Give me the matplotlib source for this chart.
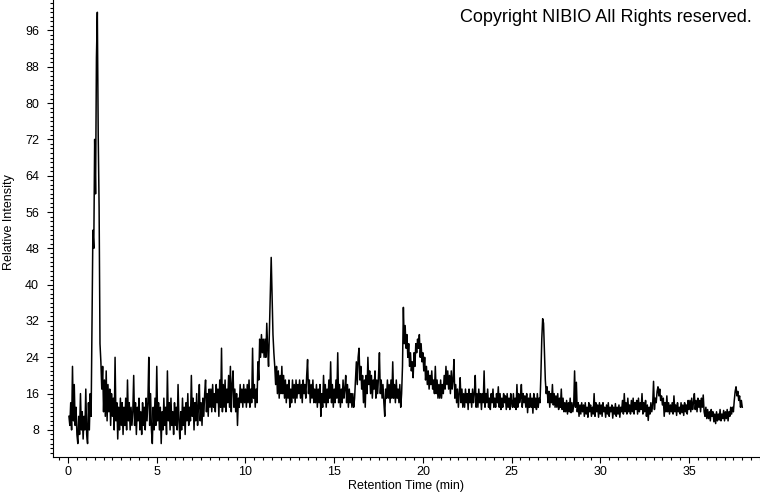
import numpy as np
import matplotlib
matplotlib.use("Agg")
import matplotlib.pyplot as plt
from matplotlib.ticker import MultipleLocator

plt.rcParams['font.family'] = ['Liberation Sans', 'DejaVu Sans']

# chromatogram, sampled every 0.05 min starting at 0.05 min
t_start = 0.05
t_step = 0.05
intensity = [
    11, 9, 14, 8, 22, 10, 18, 9, 13, 7, 5, 11, 7, 16, 8, 12, 6, 11, 8, 17,
    7, 5, 14, 8, 16, 11, 32, 52, 48, 72, 60, 90, 100, 73, 57, 27, 23, 17, 22, 12,
    19, 11, 21, 10, 18, 12, 17, 9, 16, 11, 15, 8, 24, 10, 14, 6, 13, 8, 15, 9,
    14, 7, 13, 9, 15, 8, 19, 10, 14, 8, 13, 9, 12, 20, 9, 14, 7, 13, 10, 15,
    8, 12, 7, 14, 9, 13, 8, 15, 10, 14, 24, 9, 16, 8, 5, 13, 8, 15, 9, 22,
    10, 14, 8, 13, 5, 12, 8, 15, 9, 13, 7, 21, 10, 14, 8, 15, 9, 12, 7, 14,
    9, 13, 8, 18, 10, 6, 12, 8, 15, 9, 13, 7, 14, 10, 16, 9, 13, 10, 20, 11,
    15, 8, 14, 10, 16, 9, 13, 18, 10, 14, 9, 15, 11, 16, 19, 12, 16, 11, 17, 13,
    17, 12, 18, 13, 16, 12, 18, 14, 17, 11, 19, 13, 26, 12, 18, 13, 19, 12, 17, 14,
    20, 13, 22, 12, 18, 21, 13, 17, 12, 16, 9, 15, 13, 18, 14, 17, 13, 18, 14, 17,
    13, 18, 14, 19, 13, 17, 14, 26, 15, 18, 13, 17, 14, 23, 19, 28, 24, 29, 25, 28,
    24, 28, 24, 31.5, 26, 22, 30, 39, 46, 37, 29, 25, 22, 18, 22, 16, 21, 15, 20, 16,
    22, 16, 20, 15, 19, 14, 18, 15, 19, 13, 17, 14, 19, 15, 18, 14, 19, 15, 18, 16,
    19, 15, 18, 14, 19, 16, 18, 15, 20, 23.5, 16, 19, 14, 18, 15, 19, 14, 17, 14, 18,
    13, 17, 14, 18, 11, 16, 13, 20, 14, 18, 13, 17, 14, 19, 15, 23, 14, 18, 13, 17,
    14, 19, 15, 25, 14, 18, 13, 17, 14, 19, 15, 17, 20, 14, 18, 13, 17, 14, 16, 13,
    16, 13, 15, 19, 23, 18, 24, 26, 19, 22, 17, 20, 14, 19, 13, 20, 16, 24, 18, 21,
    16, 20, 15, 19, 17, 21, 15, 19, 16, 20, 25, 16, 19, 15, 18, 14, 11, 17, 15, 19,
    15, 18, 14, 19, 15, 23, 15, 18, 14, 19, 15, 17, 14, 18, 13, 16, 22, 35, 27, 31,
    26, 29, 24, 27, 22, 25, 21, 23, 19.5, 25, 22, 27, 25, 28, 26, 29, 24, 27, 23, 25,
    21, 24, 19, 22, 18, 21, 17, 20, 18, 21, 17, 19, 16, 22, 16, 19, 15, 18, 15, 19,
    15, 18, 16, 20, 17, 22, 18, 21, 17, 20, 16, 21, 17, 19, 23.5, 15, 18, 14, 17, 13,
    16, 19.5, 14, 17, 13, 16, 13, 17, 14, 16, 12.5, 17, 14, 16, 13, 17, 14, 16, 20, 13,
    16, 13, 17, 14, 16, 12.5, 16, 14, 21, 13, 16, 14, 17, 13, 15, 12.5, 16, 14, 17, 13,
    15, 13, 16, 14, 17.5, 13, 16, 12.5, 15, 13, 16, 14, 15.5, 12.5, 16, 13, 15, 12.5, 16, 14,
    13, 16, 13, 15, 12.5, 18, 13, 16, 14, 15, 18, 13, 16, 14, 15.5, 13, 16, 11.8, 15, 13,
    16, 13, 15, 11.7, 16, 13, 15, 12.5, 16, 13, 15, 14, 20, 28, 32.5, 31.5, 25, 19, 16, 17.5,
    14, 16.5, 13, 16, 14, 18, 13.5, 16, 13, 15.5, 13, 16, 12.5, 15, 13, 17, 12.5, 15, 12, 14,
    12, 14.5, 11.5, 14, 12, 15, 11.8, 14, 12, 13.5, 21, 13, 18.5, 12, 14, 11, 13.5, 11.5, 14, 12,
    13.5, 11, 14, 11.5, 13, 10.8, 14, 12, 13.5, 11, 13, 11.5, 16, 11, 14, 12, 13.5, 10.8, 14, 11.5,
    13.5, 11, 14, 12, 13, 10.8, 13.5, 11.5, 14, 11, 13, 12, 13.5, 10.6, 13, 11.5, 13.8, 11, 13, 11.5,
    13.5, 10.8, 13, 12, 14.5, 11.5, 16, 12, 14, 11.5, 15, 12, 13.5, 11.5, 14.5, 12, 15, 11.5, 14, 12.5,
    14.5, 11.5, 15, 12, 14, 12.5, 16, 11.5, 14, 12, 14.5, 11, 13.5, 10.1, 13, 11.5, 14, 12, 13.5, 18.7,
    12.5, 15, 14, 16.5, 17.5, 15.5, 17, 14.5, 15.5, 13.5, 15, 11, 14, 12, 15.5, 12, 14, 11.5, 13.5, 12,
    14, 11.5, 15.5, 12, 13.5, 11.2, 14, 12, 13, 11.5, 14, 11.8, 13.5, 11.2, 14, 12, 13.5, 11.5, 14.5, 12.5,
    14.5, 12, 15, 12.5, 14, 16, 12.5, 14.5, 12, 15, 13, 14.5, 12, 15, 13, 15.7, 12, 11, 13, 10.5,
    12.5, 10.5, 12, 10, 12.5, 11, 12, 9.8, 11.5, 9.4, 12, 10, 11.5, 10.2, 12.5, 10, 11.5, 10.5, 12.3, 10,
    12, 10.5, 12.5, 10, 12, 11, 13, 11.5, 13, 12, 14.5, 16.5, 17.5, 15.5, 16.5, 14.5, 15.5, 13, 14.5, 13,
]
retention_time = t_start + t_step * np.arange(len(intensity))

fig = plt.figure(figsize=(7.6, 4.92), dpi=100)
ax = fig.add_axes([0.0697, 0.0717, 0.9303, 0.9283])
ax.plot(retention_time, intensity, color='black', linewidth=1.1)

ax.set_xlim(-0.85, 39.0)
ax.set_ylim(2.1, 102.7)
ax.spines['top'].set_visible(False)
ax.spines['right'].set_visible(False)

ax.xaxis.set_major_locator(MultipleLocator(5))
ax.xaxis.set_minor_locator(MultipleLocator(0.5))
ax.yaxis.set_major_locator(MultipleLocator(8))
ax.yaxis.set_minor_locator(MultipleLocator(1))
ax.set_yticks([8, 16, 24, 32, 40, 48, 56, 64, 72, 80, 88, 96])
ax.tick_params(which='major', length=4, width=0.8, labelsize=9)
ax.tick_params(which='minor', length=2.5, width=0.8)
ax.tick_params(axis='y', which='major', pad=6)
ax.tick_params(axis='x', which='major', pad=3)

ax.set_xlabel('Retention Time (min)', fontsize=9, labelpad=1)
fig.text(9 / 760, 1 - 222 / 492, 'Relative Intensity', rotation=90,
         ha='center', va='center', fontsize=9)
fig.text(752 / 760, 1 - 21.7 / 492, 'Copyright NIBIO All Rights reserved.',
         ha='right', va='baseline', fontsize=13)

fig.savefig('out.png', dpi=100)
